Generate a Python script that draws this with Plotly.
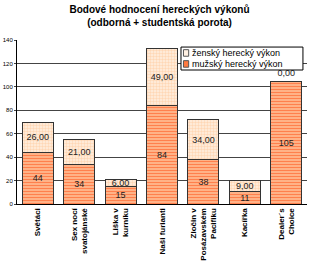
import plotly.graph_objects as go

categories = ["Světáci", "Sex nocí<br>svatojánské", "Liška v<br>kurníku", "Naši furianti",
              "Zločin v<br>Posázavském<br>Pacifiku", "Kacířka", "Dealer´s<br>Choice"]
male = [44, 34, 15, 84, 38, 11, 105]
female = [26, 21, 6, 49, 34, 9, 0]
series_names = ["ženský herecký výkon", "mužský herecký výkon"]

male_text = [str(v) for v in male]
female_text = [f"{v:.2f}".replace(".", ",") for v in female]
female_pos = ["inside" if v > 0 else "outside" for v in female]

FONT = "Liberation Sans, Arial"
male_fg, male_bg = "#FF3D00", "#FFC29A"
fem_fg, fem_bg = "#FFBE88", "#FFF0E2"

fig = go.Figure()
fig.add_trace(go.Bar(
    x=categories, y=male, name=series_names[1],
    text=male_text, textposition="inside", insidetextanchor="middle", textangle=0,
    constraintext="none",
    textfont=dict(family=FONT, size=9, color="#222"),
    marker=dict(color=male_bg, line=dict(color="#333", width=1),
                pattern=dict(shape="-", fgcolor=male_fg, bgcolor=male_bg, size=3, solidity=0.5)),
))
fig.add_trace(go.Bar(
    x=categories, y=female, name=series_names[0],
    text=female_text, textposition=female_pos, insidetextanchor="middle", textangle=0,
    constraintext="none", cliponaxis=False,
    textfont=dict(family=FONT, size=9, color="#222"),
    marker=dict(color=fem_bg, line=dict(color="#333", width=1),
                pattern=dict(shape=".", fgcolor=fem_fg, bgcolor=fem_bg, size=3, solidity=0.5)),
))

# custom compact legend (paper coordinates)
shapes = [dict(type="rect", xref="paper", yref="paper", x0=0.5655, x1=0.986, y0=0.817, y1=0.957,
               line=dict(color="black", width=1), fillcolor="white", layer="above")]
annotations = []
for name, yc, col, edge in [(series_names[0], 0.921, fem_bg, "#555"), (series_names[1], 0.854, "#FF7A40", "#555")]:
    shapes.append(dict(type="rect", xref="paper", yref="paper", x0=0.574, x1=0.592,
                       y0=yc - 0.02, y1=yc + 0.02, line=dict(color=edge, width=1),
                       fillcolor=col, layer="above"))
    annotations.append(dict(text=name, xref="paper", yref="paper", x=0.597, y=yc,
                            xanchor="left", yanchor="middle", showarrow=False,
                            font=dict(family=FONT, size=9, color="black")))

fig.update_layout(
    width=319, height=263, barmode="stack", bargap=0.25,
    margin=dict(l=17, r=12, t=40, b=59, autoexpand=False),
    paper_bgcolor="white", plot_bgcolor="white",
    title=dict(text="<b>Bodové hodnocení hereckých výkonů<br>(odborná + studentská porota)</b>",
               x=0.5, xanchor="center", y=0.95, yanchor="top", yref="container",
               font=dict(family=FONT, size=10, color="black")),
    font=dict(family=FONT, color="black"),
    showlegend=False,
    shapes=shapes, annotations=annotations,
    uniformtext=dict(mode=False),
)
fig.update_yaxes(range=[0, 140], dtick=20, showgrid=True, gridcolor="#444", gridwidth=1,
                 showline=True, linecolor="black", linewidth=1, ticks="outside", ticklen=2,
                 tickfont=dict(size=6), zeroline=False, automargin=False)
fig.update_xaxes(tickangle=-90, tickfont=dict(size=8, family=FONT),
                 showline=True, linecolor="black", linewidth=1, ticks="", automargin=False,
                 tickprefix="<b>", ticksuffix="</b>")
fig.write_html("out.html")
